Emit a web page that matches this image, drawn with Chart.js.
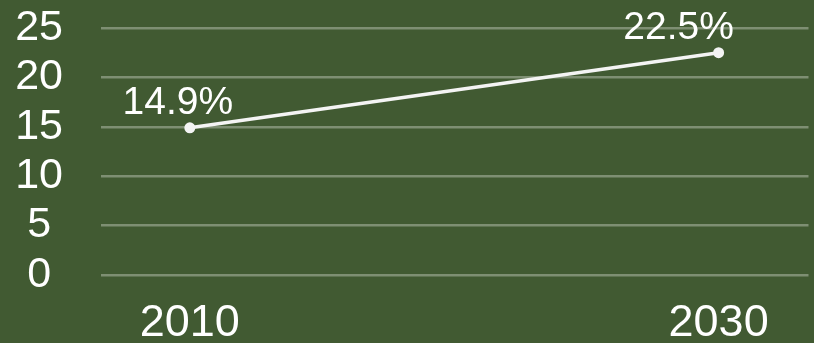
<!DOCTYPE html>
<html>
<head>
<meta charset="utf-8">
<script src="https://cdn.jsdelivr.net/npm/chart.js@4/dist/chart.umd.min.js"></script>
<style>
html,body{margin:0;padding:0;background:#415a32;}
#wrap{width:814px;height:343px;position:relative;}
</style>
</head>
<body>
<div id="wrap"><canvas id="c" width="814" height="343"></canvas></div>
<script>
const years = [2010, 2030];
const shares = [14.9, 22.5];
const valueLabels = ['14.9%', '22.5%'];
const yTicks = [0, 5, 10, 15, 20, 25];

const labelPlugin = {
  id: 'valueLabels',
  afterDatasetsDraw(chart, args, opts) {
    const ctx = chart.ctx;
    const meta = chart.getDatasetMeta(0);
    ctx.save();
    ctx.font = '39px "Liberation Sans", Arial, sans-serif';
    ctx.fillStyle = '#ffffff';
    ctx.textAlign = 'center';
    ctx.textBaseline = 'alphabetic';
    meta.data.forEach((pt, i) => {
      const dx = opts.dx[i] || 0;
      ctx.fillText(valueLabels[i], pt.x + dx, pt.y - 14);
    });
    ctx.restore();
  }
};

new Chart(document.getElementById('c'), {
  type: 'line',
  data: {
    datasets: [{
      data: years.map((y, i) => ({x: y, y: shares[i]})),
      borderColor: '#f4f4f4',
      backgroundColor: '#f4f4f4',
      borderWidth: 3.5,
      pointRadius: 5.5,
      pointBorderWidth: 0,
      pointBackgroundColor: '#f4f4f4',
      tension: 0
    }]
  },
  options: {
    responsive: false,
    animation: false,
    layout: {padding: {left: 0, right: 4, top: 0, bottom: 0}},
    plugins: {
      legend: {display: false},
      tooltip: {enabled: false},
      valueLabels: {dx: [-12, -40]}
    },
    scales: {
      x: {
        type: 'linear',
        min: 2006.64,
        max: 2033.4,
        afterBuildTicks(axis) { axis.ticks = years.map(v => ({value: v})); },
        afterFit(axis) { axis.height = 68; axis.paddingTop = 0; axis.paddingBottom = 0; },
        grid: {display: false, drawTicks: false},
        border: {display: false},
        ticks: {
          color: '#ffffff',
          font: {family: '"Liberation Sans", Arial, sans-serif', size: 45},
          padding: 22,
          maxRotation: 0,
          autoSkip: false,
          callback: v => String(v)
        }
      },
      y: {
        min: 0,
        max: 25,
        afterBuildTicks(axis) { axis.ticks = yTicks.map(v => ({value: v})); },
        afterFit(axis) { axis.width = 101; axis.paddingTop = 28; axis.paddingBottom = 0; },
        grid: {color: 'rgba(255,255,255,0.32)', lineWidth: 2.5, drawTicks: false},
        border: {display: false},
        ticks: {
          color: '#ffffff',
          font: {family: '"Liberation Sans", Arial, sans-serif', size: 43},
          padding: 38,
          autoSkip: false,
          crossAlign: 'center'
        }
      }
    }
  },
  plugins: [labelPlugin]
});
</script>
</body>
</html>
